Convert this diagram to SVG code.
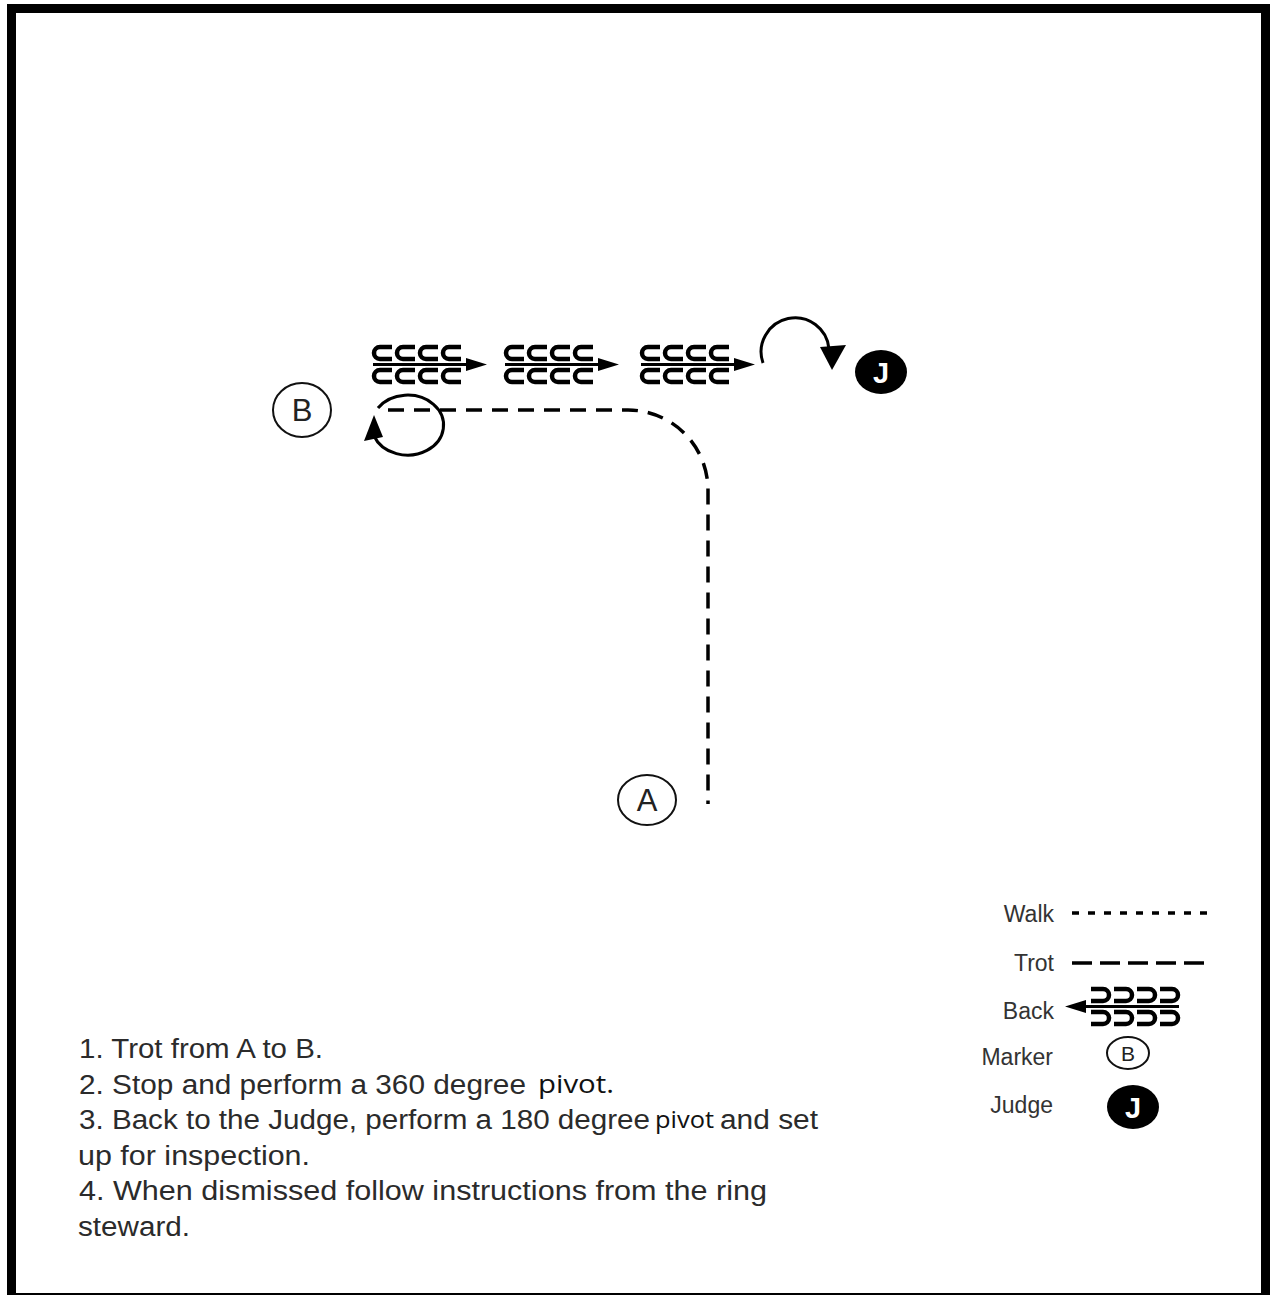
<svg xmlns="http://www.w3.org/2000/svg" xmlns:xlink="http://www.w3.org/1999/xlink" width="1270" height="1295" viewBox="0 0 1270 1295">
<style>
.txt{font-family:"Liberation Sans",Arial,sans-serif;fill:#2b2b2b;font-size:27px}
.piv{font-family:"Open Sans","Noto Sans",sans-serif;fill:#111}
.leg{font-family:"Liberation Sans",Arial,sans-serif;fill:#333;font-size:23px;text-anchor:end}
.mk{fill:#fff;stroke:#111;stroke-width:2}
.mkt{font-family:"Liberation Sans",Arial,sans-serif;fill:#222;text-anchor:middle}
.jt{font-family:"Liberation Sans",Arial,sans-serif;fill:#fff;font-weight:bold;text-anchor:middle}
.trot{fill:none;stroke:#000;stroke-width:3.5;stroke-dasharray:16 10}
.walk{fill:none;stroke:#000;stroke-width:3.5;stroke-dasharray:7 9}
.arc{fill:none;stroke:#000;stroke-width:3}
.c{fill:none;stroke:#000;stroke-width:4.5}
</style>
<defs>
<g id="back">
<path class="c" d="M20,2H8A6,6 0 0 0 2,8A6,6 0 0 0 8,14H20M43,2H31A6,6 0 0 0 25,8A6,6 0 0 0 31,14H43M66,2H54A6,6 0 0 0 48,8A6,6 0 0 0 54,14H66M89,2H77A6,6 0 0 0 71,8A6,6 0 0 0 77,14H89"/>
<path class="c" d="M20,25H8A6,6 0 0 0 2,31A6,6 0 0 0 8,37H20M43,25H31A6,6 0 0 0 25,31A6,6 0 0 0 31,37H43M66,25H54A6,6 0 0 0 48,31A6,6 0 0 0 54,37H66M89,25H77A6,6 0 0 0 71,31A6,6 0 0 0 77,37H89"/>
<line x1="1" y1="19.5" x2="97" y2="19.5" stroke="#000" stroke-width="3"/>
<polygon points="94,13 115,19.5 94,26" fill="#000"/>
</g>
</defs>
<rect x="0" y="0" width="1270" height="1295" fill="#fff"/>
<rect x="11.5" y="8.5" width="1254" height="1289" fill="none" stroke="#000" stroke-width="9"/>

<g id="connectors">
<path class="trot" d="M388,410H628A80,80 0 0 1 708,490V804"/>
<path class="arc" d="M378,408A36,30 0 1 1 374,436"/>
<polygon points="374,415 364,441 383,437" fill="#000"/>
<use xlink:href="#back" x="372" y="345"/>
<use xlink:href="#back" x="504" y="345"/>
<use xlink:href="#back" x="640" y="345"/>
<path class="arc" d="M763,363A34,34 0 1 1 829,349"/>
<polygon points="832,370 820,347 846,345" fill="#000"/>
</g>

<g id="marker-B">
<ellipse class="mk" cx="302" cy="410" rx="29" ry="27"/>
<text class="mkt" x="302" y="421" font-size="31">B</text>
</g>
<g id="marker-A">
<ellipse class="mk" cx="647" cy="800" rx="29" ry="25"/>
<text class="mkt" x="647" y="811" font-size="31">A</text>
</g>
<g id="judge">
<ellipse cx="881" cy="372" rx="26" ry="22" fill="#000"/>
<text class="jt" x="881" y="383" font-size="29">J</text>
</g>

<g id="legend">
<text class="leg" x="1054" y="922">Walk</text>
<line class="walk" x1="1072" y1="913" x2="1210" y2="913"/>
<text class="leg" x="1054" y="971">Trot</text>
<line class="trot" x1="1072" y1="963" x2="1208" y2="963" style="stroke-dasharray:20 8"/>
<text class="leg" x="1054" y="1019">Back</text>
<use xlink:href="#back" transform="translate(1180,987) scale(-1,1)"/>
<text class="leg" x="1053" y="1065">Marker</text>
<ellipse class="mk" cx="1128" cy="1053" rx="21" ry="16"/>
<text class="mkt" x="1128" y="1061" font-size="21">B</text>
<text class="leg" x="1053" y="1113">Judge</text>
<ellipse cx="1133" cy="1107" rx="26" ry="22" fill="#000"/>
<text class="jt" x="1133" y="1118" font-size="29">J</text>
</g>

<g id="instructions">
<text class="txt" x="79" y="1058" textLength="244" lengthAdjust="spacingAndGlyphs">1. Trot from A to B.</text>
<text class="txt" x="79" y="1094" textLength="447" lengthAdjust="spacingAndGlyphs">2. Stop and perform a 360 degree</text>
<text class="piv" x="538" y="1093" font-size="26" textLength="76" lengthAdjust="spacingAndGlyphs">pivot.</text>
<text class="txt" x="79" y="1129" textLength="571" lengthAdjust="spacingAndGlyphs">3. Back to the Judge, perform a 180 degree</text>
<text class="piv" x="655" y="1128" font-size="23" textLength="59" lengthAdjust="spacingAndGlyphs">pivot</text>
<text class="txt" x="720" y="1129" textLength="98" lengthAdjust="spacingAndGlyphs">and set</text>
<text class="txt" x="78" y="1165" textLength="232" lengthAdjust="spacingAndGlyphs">up for inspection.</text>
<text class="txt" x="79" y="1200" textLength="688" lengthAdjust="spacingAndGlyphs">4. When dismissed follow instructions from the ring</text>
<text class="txt" x="78" y="1236" textLength="112" lengthAdjust="spacingAndGlyphs">steward.</text>
</g>
</svg>
